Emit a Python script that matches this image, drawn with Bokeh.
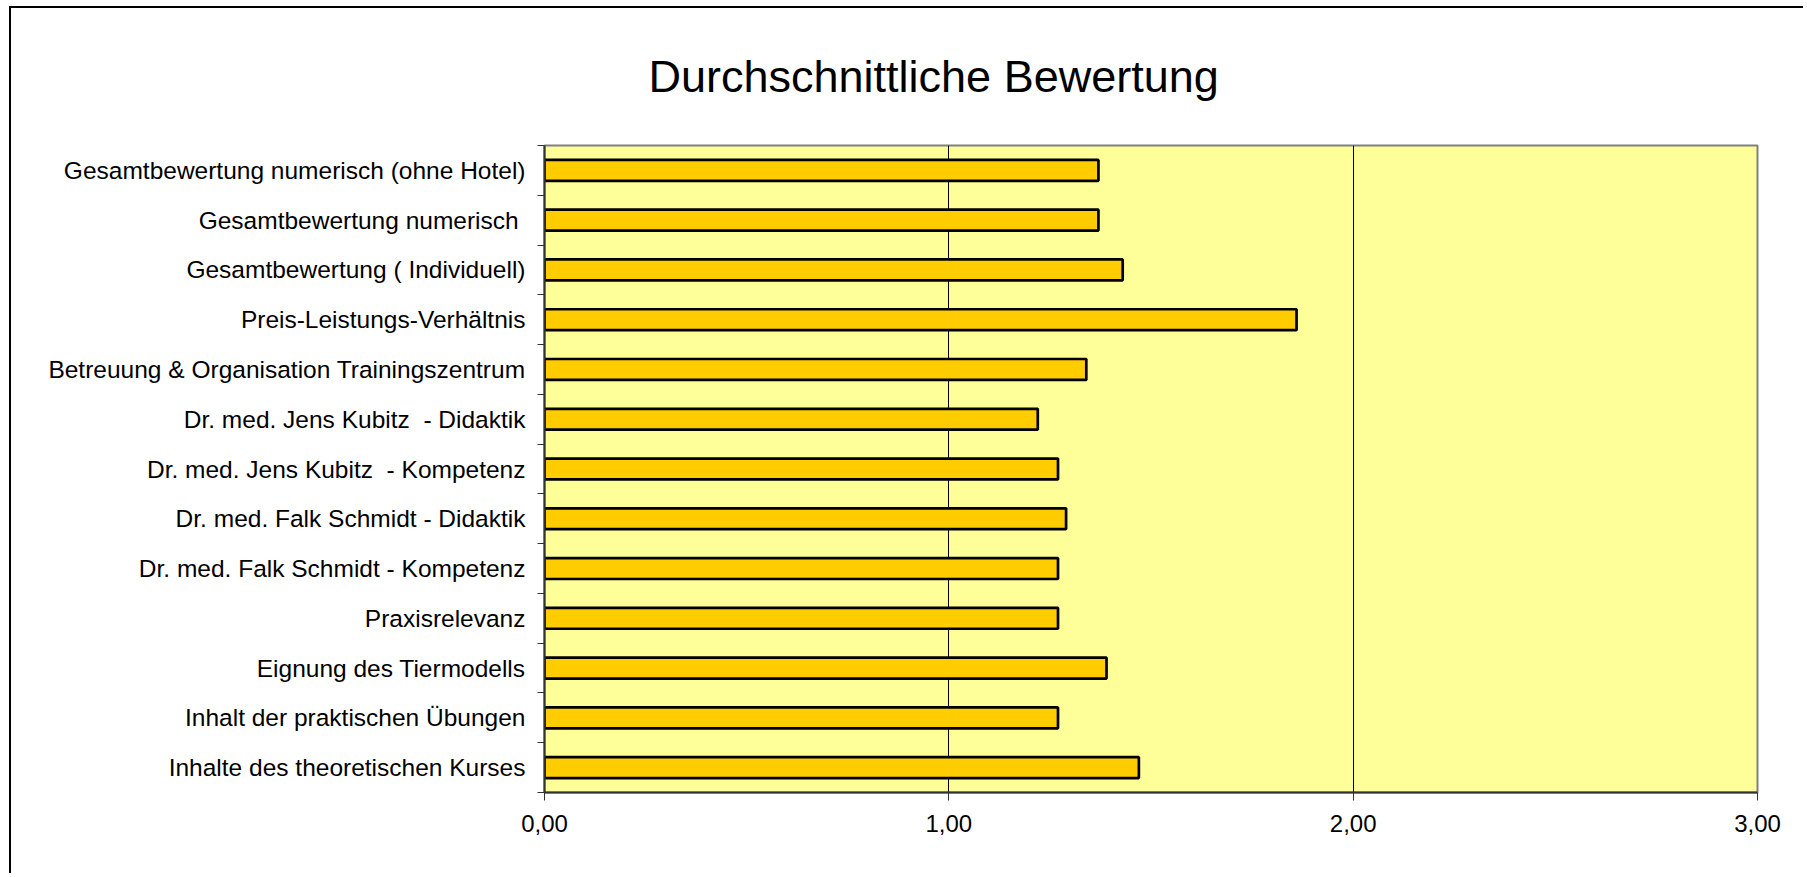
from bokeh.plotting import figure
from bokeh.models import FixedTicker, ColumnDataSource, Title
from bokeh.embed import file_html
from bokeh.resources import INLINE

# categories from top to bottom
categories = [
    "Gesamtbewertung numerisch (ohne Hotel)",
    "Gesamtbewertung numerisch ",
    "Gesamtbewertung ( Individuell)",
    "Preis-Leistungs-Verhältnis",
    "Betreuung & Organisation Trainingszentrum",
    "Dr. med. Jens Kubitz\u00a0 - Didaktik",
    "Dr. med. Jens Kubitz\u00a0 - Kompetenz",
    "Dr. med. Falk Schmidt - Didaktik",
    "Dr. med. Falk Schmidt - Kompetenz",
    "Praxisrelevanz",
    "Eignung des Tiermodells",
    "Inhalt der praktischen Übungen",
    "Inhalte des theoretischen Kurses",
]
values = [1.37, 1.37, 1.43, 1.86, 1.34, 1.22, 1.27, 1.29, 1.27, 1.27, 1.39, 1.27, 1.47]
x_ticks = [0, 1, 2, 3]
x_tick_labels = ["0,00", "1,00", "2,00", "3,00"]
title_text = "Durchschnittliche Bewertung"

n = len(categories)
ypos = [n - 0.5 - i for i in range(n)]
src = ColumnDataSource(dict(y=ypos, v=values, name=categories))

FONT = "Liberation Sans"

p = figure(width=1794, height=867, output_backend="svg", toolbar_location=None,
           x_range=(0, 3), y_range=(0, n),
           min_border_left=533, min_border_right=48, min_border_top=137, min_border_bottom=83)
p.styles = {"border-left": "2px solid #000000", "border-top": "2px solid #000000",
            "margin-left": "9px", "margin-top": "6px"}

p.background_fill_color = "#FFFF99"
p.border_fill_color = "#FFFFFF"
p.outline_line_color = "#808080"
p.outline_line_width = 2

p.hbar(y="y", right="v", left=0, height=0.42, source=src,
       fill_color="#FFCC00", line_color="#000000", line_width=2.7)

# title
t = Title(text=title_text, align="left", offset=104, standoff=84, vertical_align="top",
          text_font=FONT, text_font_size="45px", text_font_style="normal", text_color="#000000")
p.add_layout(t, "above")

# x axis
p.xaxis.ticker = FixedTicker(ticks=x_ticks, minor_ticks=[])
p.xaxis.major_label_overrides = {k: lab for k, lab in zip(x_ticks, x_tick_labels)}
p.xaxis.major_tick_out = 8
p.xaxis.major_tick_in = 0
p.xaxis.major_tick_line_color = "#333333"
p.xaxis.axis_line_color = "#333333"
p.xaxis.axis_line_width = 2
p.xaxis.major_label_standoff = 14
p.xaxis.major_label_text_font = FONT
p.xaxis.major_label_text_font_size = "24px"
p.xaxis.major_label_text_color = "#000000"

# y axis: labels at centers, ticks at boundaries
p.yaxis.ticker = FixedTicker(ticks=ypos, minor_ticks=list(range(n + 1)))
p.yaxis.major_label_overrides = {y: c for y, c in zip(ypos, categories)}
p.yaxis.major_tick_line_color = None
p.yaxis.major_tick_out = 0
p.yaxis.major_tick_in = 0
p.yaxis.minor_tick_line_color = "#333333"
p.yaxis.minor_tick_out = 7
p.yaxis.minor_tick_in = 0
p.yaxis.axis_line_color = "#333333"
p.yaxis.axis_line_width = 2
p.yaxis.major_label_standoff = 12
p.yaxis.major_label_text_font = FONT
p.yaxis.major_label_text_font_size = "24.5px"
p.yaxis.major_label_text_color = "#000000"

p.xgrid.ticker = FixedTicker(ticks=[1, 2])
p.xgrid.grid_line_color = "#000000"
p.xgrid.grid_line_width = 1
p.ygrid.grid_line_color = None

open("out.html", "w").write(file_html(p, INLINE))
